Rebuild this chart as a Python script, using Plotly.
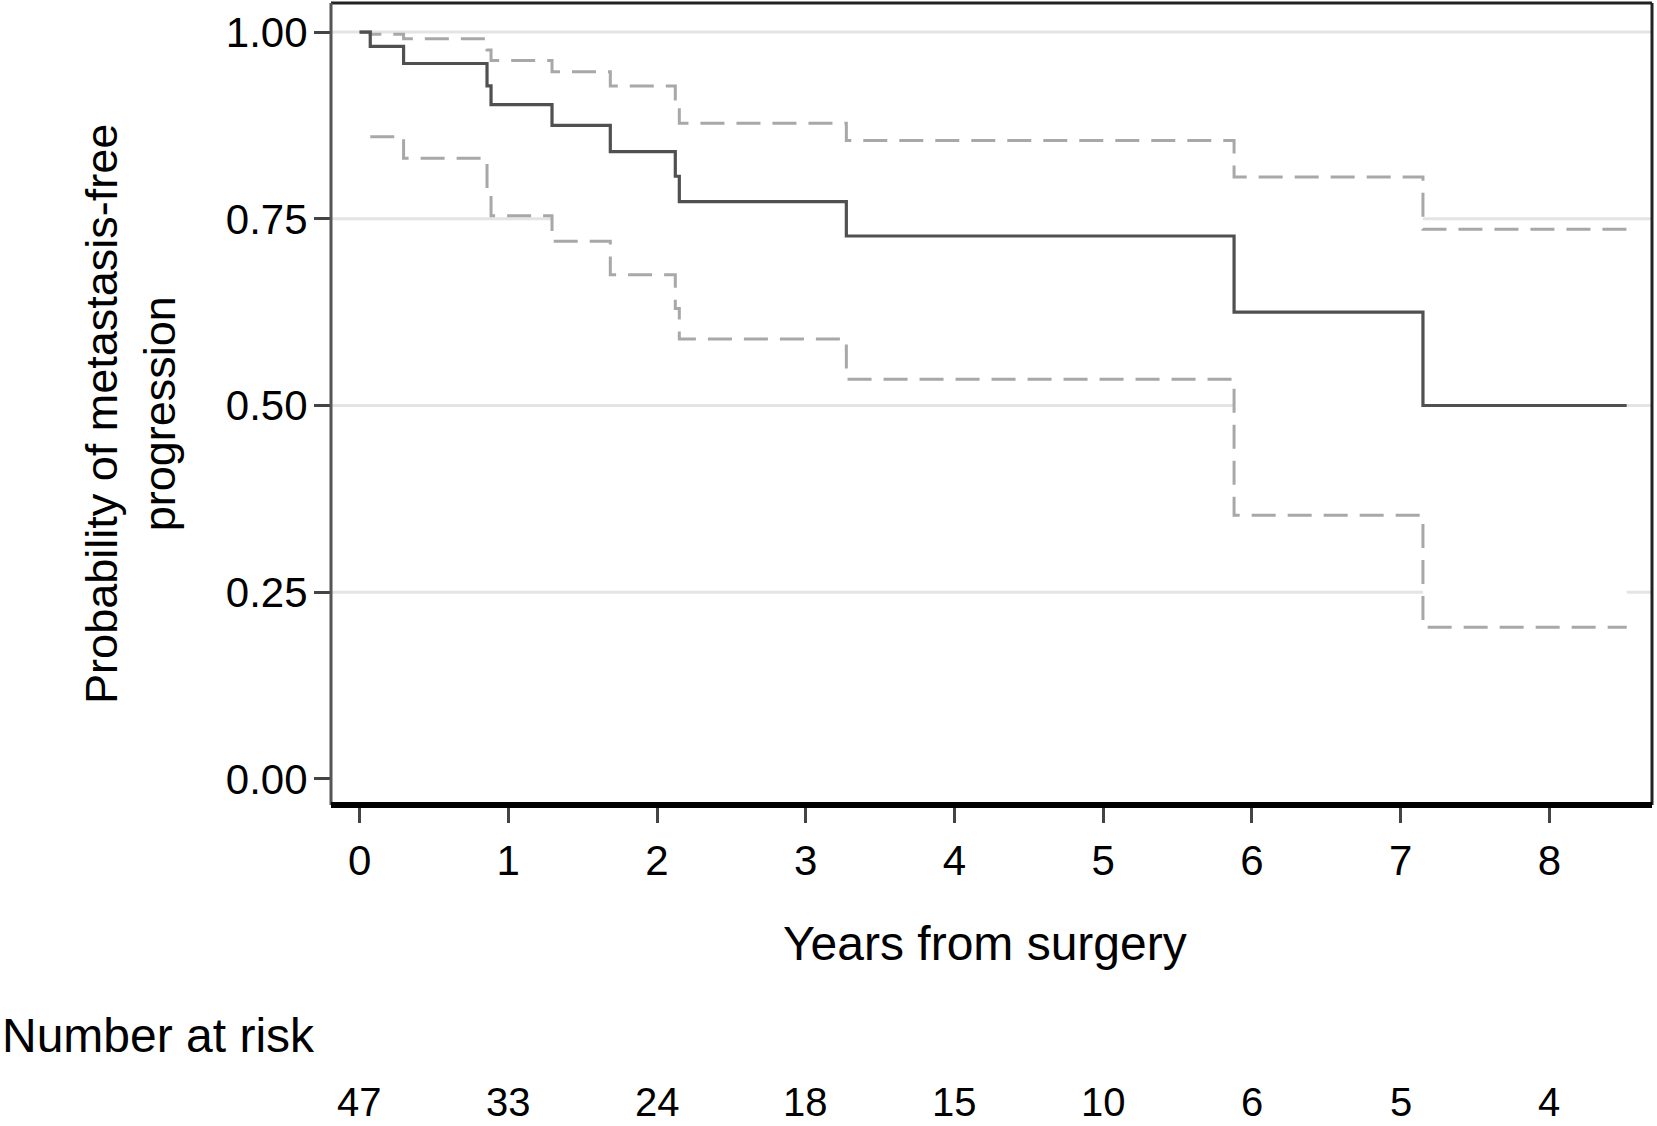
import plotly.graph_objects as go

# Kaplan-Meier estimate (years from surgery) and 95% CI
times = [0, 0.072, 0.296, 0.857, 0.884, 1.294, 1.686, 2.123, 2.150, 3.273, 5.88, 7.15, 8.52]
surv = [1.0, 0.981, 0.958, 0.928, 0.903, 0.875, 0.840, 0.807, 0.773, 0.727, 0.625, 0.500, 0.500]
upper = [1.0, 0.997, 0.991, 0.976, 0.962, 0.947, 0.928, 0.900, 0.878, 0.855, 0.806, 0.736, 0.736]
lower = [None, 0.860, 0.831, 0.790, 0.754, 0.720, 0.675, 0.630, 0.589, 0.535, 0.353, 0.203, 0.203]

risk_times = [0, 1, 2, 3, 4, 5, 6, 7, 8]
at_risk = [47, 33, 24, 18, 15, 10, 6, 5, 4]

y_ticks = [0.0, 0.25, 0.50, 0.75, 1.00]
grid_levels = [0.25, 0.50, 0.75, 1.00]

FONT = "Liberation Sans, Arial, Helvetica, sans-serif"

fig = go.Figure()

# white confidence band (hides the gridlines between the CI limits)
fig.add_trace(go.Scatter(x=times[1:], y=lower[1:], mode="lines", line=dict(width=0, shape="hv"),
                         hoverinfo="skip", showlegend=False))
fig.add_trace(go.Scatter(x=times[1:], y=upper[1:], mode="lines", line=dict(width=0, shape="hv"),
                         fill="tonexty", fillcolor="white", hoverinfo="skip", showlegend=False))

dash_style = dict(color="#a8a8a8", width=3, dash="24px,12px", shape="hv")
fig.add_trace(go.Scatter(x=times[1:], y=lower[1:], mode="lines", line=dash_style, showlegend=False))
fig.add_trace(go.Scatter(x=times, y=upper, mode="lines", line=dash_style, showlegend=False))
fig.add_trace(go.Scatter(x=times, y=surv, mode="lines",
                         line=dict(color="#505050", width=3.2, shape="hv"), showlegend=False))

shapes = []
for g in grid_levels:
    shapes.append(dict(type="line", xref="paper", yref="y", x0=0, x1=1, y0=g, y1=g,
                       line=dict(color="#e4e4e4", width=3), layer="below"))
# frame
shapes.append(dict(type="line", xref="paper", yref="paper", x0=0, x1=1, y0=1, y1=1,
                   line=dict(color="#222222", width=3)))
shapes.append(dict(type="line", xref="paper", yref="paper", x0=1, x1=1, y0=0, y1=1,
                   line=dict(color="#222222", width=3)))
shapes.append(dict(type="line", xref="paper", yref="paper", x0=0, x1=0, y0=0, y1=1,
                   line=dict(color="#555555", width=3)))
shapes.append(dict(type="line", xref="paper", yref="paper", x0=0, x1=1, y0=0, y1=0,
                   line=dict(color="#000000", width=6)))

annotations = [
    dict(text="Years from surgery", xref="paper", yref="paper", x=0.495, y=-0.173,
         xanchor="center", yanchor="middle", showarrow=False,
         font=dict(family=FONT, size=48, color="black")),
    dict(text="Probability of metastasis-free<br>progression", xref="paper", yref="paper",
         x=-0.1515, y=0.4875, xanchor="center", yanchor="middle", textangle=-90,
         showarrow=False, font=dict(family=FONT, size=45, color="black")),
    dict(text="Number at risk", xref="paper", yref="paper", x=-0.2506, y=-0.288,
         xanchor="left", yanchor="middle", showarrow=False,
         font=dict(family=FONT, size=48, color="black")),
]
for t, n in zip(risk_times, at_risk):
    annotations.append(dict(text=str(n), xref="x", yref="paper", x=t, y=-0.3705,
                            xanchor="center", yanchor="middle", showarrow=False,
                            font=dict(family=FONT, size=40, color="black")))

fig.update_layout(
    width=1657, height=1126,
    margin=dict(l=331, r=5, t=3, b=321),
    paper_bgcolor="white", plot_bgcolor="white",
    font=dict(family=FONT, size=42, color="black"),
    shapes=shapes, annotations=annotations,
    xaxis=dict(range=[-0.192, 8.69], tickmode="array", tickvals=risk_times,
               ticktext=[str(t) for t in risk_times],
               showgrid=False, zeroline=False, showline=False,
               ticks="outside", ticklen=17, tickwidth=3, tickcolor="#444444",
               ticklabelstandoff=2, tickfont=dict(family=FONT, size=42, color="black")),
    yaxis=dict(range=[-0.035, 1.039], tickmode="array", tickvals=y_ticks,
               ticktext=[f"{v:.2f}" for v in y_ticks],
               showgrid=False, zeroline=False, showline=False,
               ticks="outside", ticklen=16, tickwidth=3, tickcolor="#444444",
               ticklabelstandoff=-2, tickfont=dict(family=FONT, size=42, color="black")),
)

fig.write_html("out.html", config={"displayModeBar": False},
               post_script="document.body.style.margin='0px';")
